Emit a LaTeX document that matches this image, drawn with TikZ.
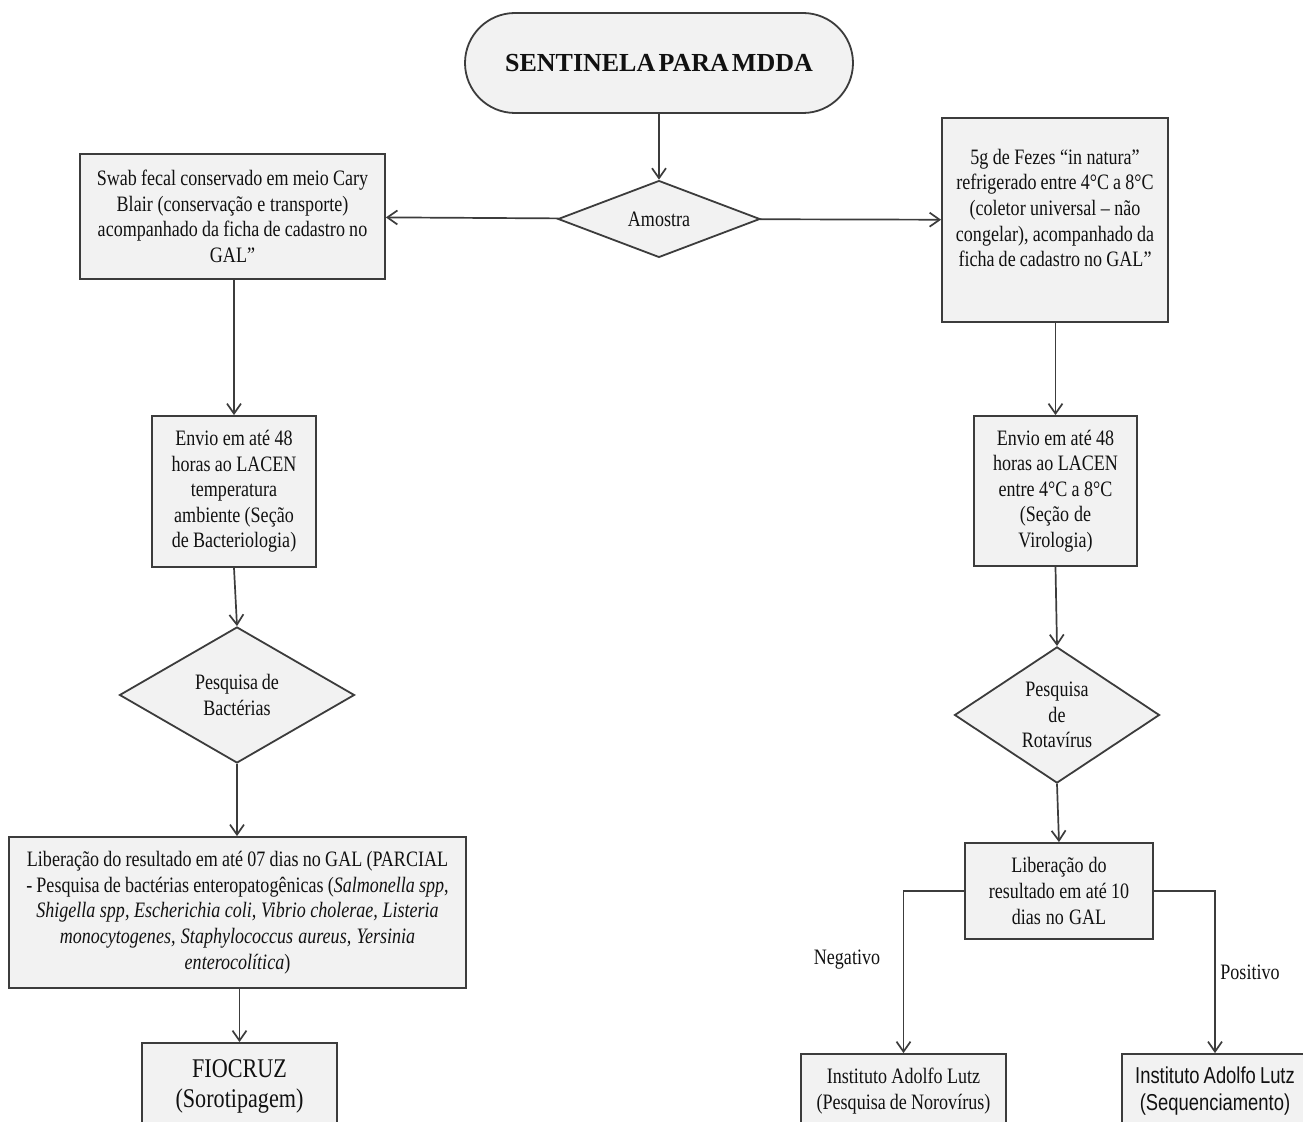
\documentclass[tikz,border=0pt]{standalone}
\usepackage{fontspec}
\setmainfont{Liberation Serif}[FakeStretch=0.82]
\newfontfamily\titlefont{Liberation Serif}
\newfontfamily\armfont{Liberation Sans}[FakeStretch=0.8]
\newcommand\tightsp{\spaceskip=1.9pt plus 0.6pt minus 0.3pt\relax}
\newcommand\titlesp{\spaceskip=1.6pt\relax}
\newcommand\bodyfont{\fontsize{11}{12.8}\selectfont\tightsp}
\newcommand\titlefnt{\titlefont\fontsize{13}{15}\selectfont\bfseries\titlesp}
\newcommand\bigfnt{\fontsize{13.5}{15}\selectfont\tightsp}
\newcommand\sansfnt{\armfont\fontsize{11.5}{13.2}\selectfont\tightsp}
\usetikzlibrary{shapes.geometric,arrows.meta}
\definecolor{boxfill}{HTML}{F2F2F2}
\definecolor{edge}{HTML}{3C3C3C}
\definecolor{ink}{HTML}{111111}
\tikzset{
  box/.style={draw=edge, line width=0.9pt, fill=boxfill, text=ink, align=center, inner sep=0pt,
    font=\bodyfont, execute at begin node=\tightsp},
  decision/.style={diamond, draw=edge, line width=0.9pt, fill=boxfill, text=ink, align=center, inner sep=0pt,
    font=\bodyfont, execute at begin node=\tightsp},
  conn/.style={draw=edge, line width=0.85pt, -{Straight Barb[length=5pt,width=7pt]}},
  lbl/.style={text=ink, inner sep=0pt, font=\bodyfont, execute at begin node=\tightsp},
}
\begin{document}
\begin{tikzpicture}[x=0.5pt,y=-0.5pt]
\useasboundingbox (0,0) rectangle (1303,1122);
\fill[white] (0,0) rectangle (1303,1122);
\clip (0,0) rectangle (1303,1122);

% title
\node[box, rounded corners=25pt, minimum width=194pt, minimum height=50pt,
      font=\titlefnt, execute at begin node=\titlesp] (term) at (659,63) {SENTINELA PARA MDDA};

% decision Amostra
\node[decision, minimum width=101pt, minimum height=36pt] (amostra) at (659,219) {Amostra};

% left column
\node[box, minimum width=152.5pt, minimum height=62.5pt, text width=150pt] (swab) at (232.5,216.5)
  {Swab fecal conservado em meio Cary\\ Blair (conservação e transporte)\\ acompanhado da ficha de cadastro no\\ GAL”};
\node[box, minimum width=82pt, minimum height=75.5pt, text width=80pt] (envioL) at (234,491.5)
  {Envio em até 48\\ horas ao LACEN\\ temperatura\\ ambiente (Seção\\ de Bacteriologia)};
\node[decision, minimum width=117.5pt, minimum height=68pt] (bact) at (237,695)
  {Pesquisa de\\ Bactérias};
\node[box, minimum width=228.5pt, minimum height=75.5pt, text width=226pt] (libL) at (237.5,912.5)
  {Liberação do resultado em até 07 dias no GAL (PARCIAL\\
   - Pesquisa de bactérias enteropatogênicas (\textit{Salmonella spp},\\
   \textit{Shigella spp, Escherichia coli, Vibrio cholerae, Listeria}\\
   \textit{monocytogenes, Staphylococcus aureus, Yersinia}\\
   \textit{enterocolítica})};
\node[box, minimum width=97.5pt, minimum height=43pt, text width=95pt,
      font=\bigfnt] (fiocruz) at (239.5,1086)
  {FIOCRUZ\\ (Sorotipagem)};

% right column
\node[box, minimum width=113pt, minimum height=102pt] (fezes) at (1055,220) {};
\node[lbl, align=center, text width=110pt] (fezestxt) at (1055,208)
  {5g de Fezes “in natura”\\ refrigerado entre 4°C a 8°C\\ (coletor universal – não\\ congelar), acompanhado da\\ ficha de cadastro no GAL”};
\node[box, minimum width=81.5pt, minimum height=75pt, text width=80pt] (envioR) at (1055.5,491)
  {Envio em até 48\\ horas ao LACEN\\ entre 4°C a 8°C\\ (Seção de\\ Virologia)};
\node[decision, minimum width=102.5pt, minimum height=60pt] (rota) at (1057,715)
  {Pesquisa\\ de\\ Rotavírus};
\node[box, minimum width=94pt, minimum height=48pt, text width=92pt] (libR) at (1059,891)
  {Liberação do\\ resultado em até 10\\ dias no GAL};
\node[box, minimum width=102.5pt, minimum height=37pt, text width=100pt] (neg) at (903.5,1091)
  {Instituto Adolfo Lutz\\ (Pesquisa de Norovírus)};
\node[box, minimum width=93pt, minimum height=37pt, text width=92pt,
      font=\sansfnt] (pos) at (1215,1091)
  {Instituto Adolfo Lutz\\ (Sequenciamento)};

% labels
\node[lbl] (negl) at (847,960) {Negativo};
\node[lbl] (posl) at (1250,972) {Positivo};

% connectors
\draw[conn] (term) -- (amostra);
\draw[conn] (amostra) -- (swab);
\draw[conn] (amostra) -- (fezes);
\draw[conn] (swab.south -| envioL.north) -- (envioL);
\draw[conn] (envioL.south) -- (bact.north);
\draw[conn] (bact.south) -- (libL.north -| bact.south);
\draw[conn] (libL.south -| fiocruz.north) -- (fiocruz.north);
\draw[conn] (fezes.south -| envioR.north) -- (envioR.north);
\draw[conn] (envioR.south) -- (rota.north);
\draw[conn] (rota.south) -- (libR.north);
\draw[conn] (libR.west) -| (neg.north);
\draw[conn] (libR.east) -| (pos.north);
\end{tikzpicture}
\end{document}
